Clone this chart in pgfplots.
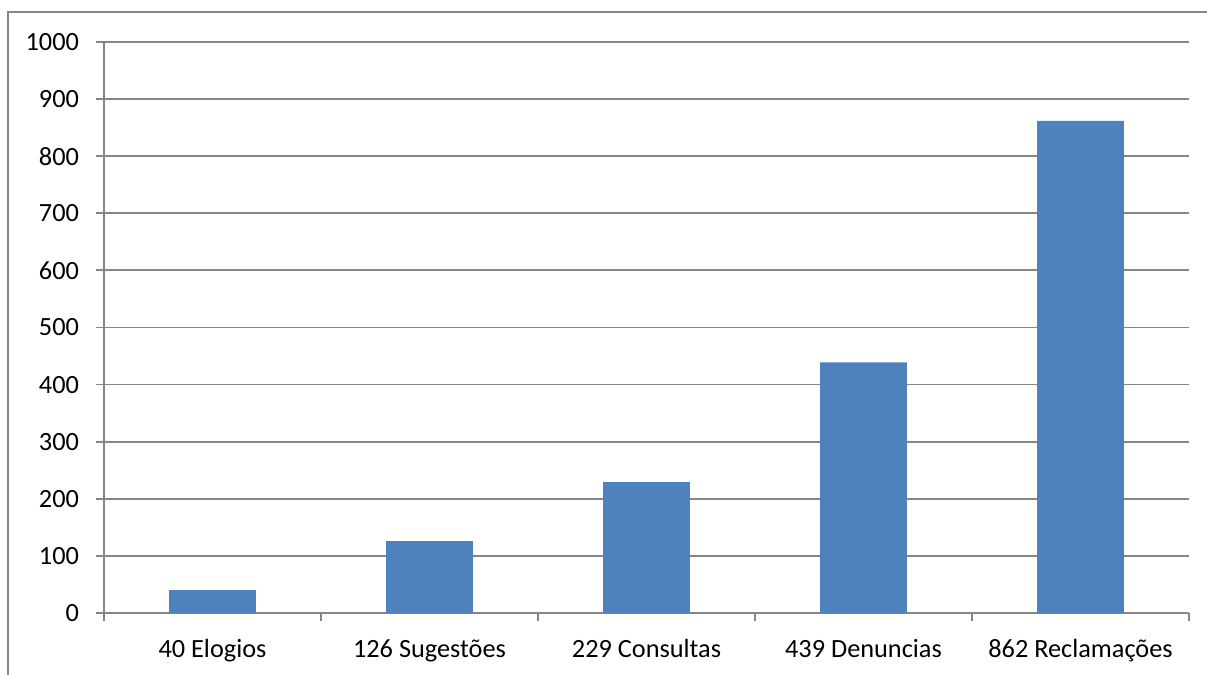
\documentclass[border=0pt]{standalone}
\usepackage{pgfplots}
\pgfplotsset{compat=1.18}
\usepackage{fontspec}
\setmainfont{Carlito}
\definecolor{barblue}{RGB}{79,129,189}
\definecolor{gridgray}{RGB}{134,134,134}
\begin{document}
\begin{tikzpicture}
  \useasboundingbox (0,0) rectangle (603.5bp,337.5bp);
  % outer chart frame (cut off at right and bottom)
  \draw[gridgray, line width=0.9bp] (4bp,0) -- (4bp,331.5bp) -- (603.5bp,331.5bp);
  \begin{axis}[
      at={(52bp,31bp)}, anchor=south west,
      scale only axis,
      width=542.5bp, height=285.5bp,
      xmin=-0.5, xmax=4.5,
      ymin=0, ymax=1000,
      ytick={0,100,...,1000},
      xtick={0,1,2,3,4},
      xticklabels={40 Elogios, 126 Sugestões, 229 Consultas, 439 Denuncias, 862 Reclamações},
      minor xtick={-0.5,0.5,1.5,2.5,3.5,4.5},
      axis lines=left,
      axis line style={gridgray, line width=0.9bp, -},
      tick align=outside,
      major tick length=4bp,
      minor tick length=4bp,
      tick style={gridgray, line width=0.9bp},
      x tick style={draw=none},
      minor x tick style={draw=gridgray, line width=0.9bp},
      ymajorgrids,
      grid style={gridgray, line width=0.9bp},
      ticklabel style={font=\fontsize{13.2}{15}\selectfont, text=black},
      /pgf/number format/assume math mode=true,
      /pgf/number format/1000 sep={},
      yticklabel style={xshift=-5bp},
      xticklabel style={yshift=-5.5bp, text height=9bp, text depth=3bp},
      clip=false,
    ]
    \addplot[ybar, bar width=0.4, fill=barblue, draw=none]
      coordinates {(0,40) (1,126) (2,229) (3,439) (4,862)};
  \end{axis}
\end{tikzpicture}
\end{document}
